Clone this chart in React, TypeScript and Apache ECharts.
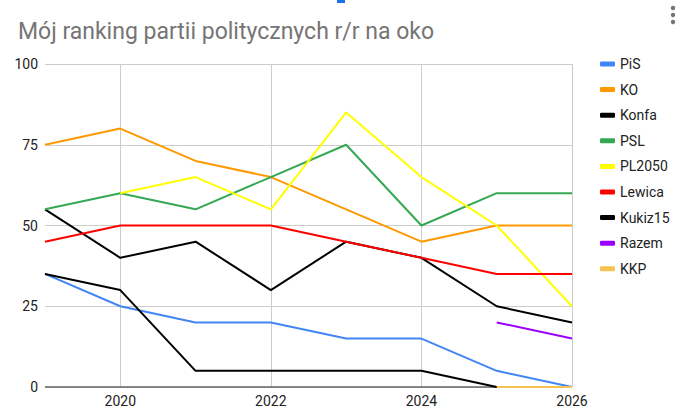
import React, { useEffect, useRef } from "react";
import * as echarts from "echarts";

const years = ["2019", "2020", "2021", "2022", "2023", "2024", "2025", "2026"];
const pis = [35, 25, 20, 20, 15, 15, 5, 0];
const ko = [75, 80, 70, 65, 55, 45, 50, 50];
const konfa = [55, 40, 45, 30, 45, 40, 25, 20];
const psl = [55, 60, 55, 65, 75, 50, 60, 60];
const pl2050 = [null, 60, 65, 55, 85, 65, 50, 25];
const lewica = [45, 50, 50, 50, 45, 40, 35, 35];
const kukiz15 = [35, 30, 5, 5, 5, 5, 0, 0];
const razem = [null, null, null, null, null, null, 20, 15];
const kkp = [null, null, null, null, null, null, 0, 0];

const seriesDefs = [
  { name: "PiS", data: pis, color: "#4285f4" },
  { name: "KO", data: ko, color: "#ff9900" },
  { name: "Konfa", data: konfa, color: "#000000" },
  { name: "PSL", data: psl, color: "#34a853" },
  { name: "PL2050", data: pl2050, color: "#ffff00" },
  { name: "Lewica", data: lewica, color: "#ff0000" },
  { name: "Kukiz15", data: kukiz15, color: "#000000" },
  { name: "Razem", data: razem, color: "#9900ff" },
  { name: "KKP", data: kkp, color: "#f6c350" },
];

const yTicks = { min: 0, max: 100, interval: 25 };

export default function App() {
  const ref = useRef<HTMLDivElement>(null);
  useEffect(() => {
    if (!ref.current) return;
    const chart = echarts.init(ref.current, null, { renderer: "svg" });
    chart.setOption({
      animation: false,
      backgroundColor: "#ffffff",
      textStyle: { fontFamily: "Roboto, Arial, sans-serif" },
      title: {
        text: "Mój ranking partii politycznych r/r na oko",
        left: 13,
        top: 15,
        textStyle: { fontSize: 23, fontWeight: "normal", color: "#757575", fontFamily: "Roboto, Arial, sans-serif" },
      },
      graphic: [
        { type: "rect", shape: { x: 337, y: 0, width: 8, height: 3 }, style: { fill: "#1a73e8" } },
        { type: "circle", shape: { cx: 673, cy: 8, r: 2.2 }, style: { fill: "#757575" } },
        { type: "circle", shape: { cx: 673, cy: 15, r: 2.2 }, style: { fill: "#757575" } },
        { type: "circle", shape: { cx: 673, cy: 22, r: 2.2 }, style: { fill: "#757575" } },
      ],
      legend: {
        orient: "vertical",
        left: 595,
        top: 51,
        icon: "roundRect",
        itemWidth: 15,
        itemHeight: 5,
        itemGap: 9.6,
        textStyle: { fontSize: 14, color: "#222222", lineHeight: 16, padding: [0, 0, 0, 0] },
        data: seriesDefs.map((s) => s.name),
      },
      grid: { left: 45, right: 108, top: 64, bottom: 25, containLabel: false },
      xAxis: {
        type: "category",
        data: years,
        boundaryGap: false,
        axisLine: { show: false },
        axisTick: { show: false },
        axisLabel: {
          interval: (i: number) => i % 2 === 1,
          color: "#222222",
          fontSize: 14,
          margin: 7,
        },
        splitLine: {
          show: true,
          interval: (i: number) => i % 2 === 1,
          lineStyle: { color: "#cccccc", width: 1 },
        },
      },
      yAxis: {
        type: "value",
        min: yTicks.min,
        max: yTicks.max,
        interval: yTicks.interval,
        axisLine: { show: false },
        axisTick: { show: false },
        axisLabel: { color: "#222222", fontSize: 14, margin: 7 },
        splitLine: { lineStyle: { color: "#cccccc", width: 1 } },
      },
      series: [
        {
          type: "line",
          name: "__axis0",
          data: [],
          markLine: {
            silent: true,
            symbol: "none",
            label: { show: false },
            lineStyle: { color: "#666666", width: 1.5, type: "solid" },
            data: [{ yAxis: 0 }],
          },
          z: 1,
        },
        ...seriesDefs.map((s, idx) => ({
          type: "line",
          name: s.name,
          data: s.data,
          showSymbol: false,
          symbol: "none",
          itemStyle: { color: s.color },
          lineStyle: { color: s.color, width: 2 },
          z: 2 + idx,
        })),
      ],
    });
    return () => chart.dispose();
  }, []);
  return <div ref={ref} style={{ position: "absolute", left: 0, top: 0, width: 680, height: 412 }} />;
}
